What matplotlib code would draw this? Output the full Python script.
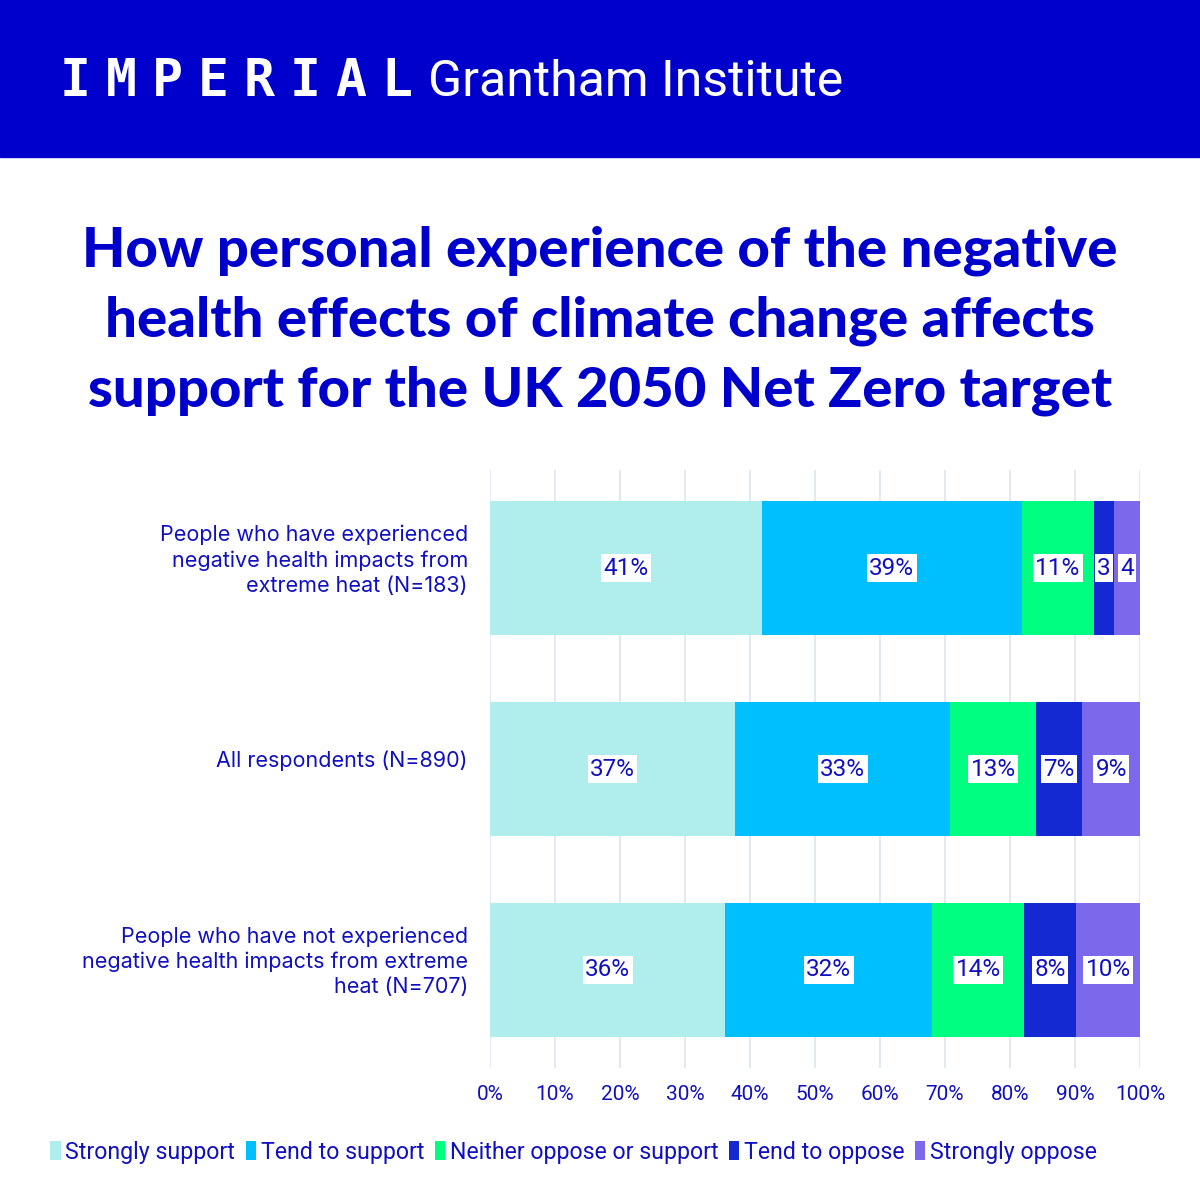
import matplotlib
matplotlib.use('Agg')
import matplotlib.pyplot as plt
import matplotlib.transforms as mtransforms
import numpy as np

groups = ['People who have experienced\nnegative health impacts from\nextreme heat (N=183)',
          'All respondents (N=890)',
          'People who have not experienced\nnegative health impacts from extreme\nheat (N=707)']
responses = ['Strongly support', 'Tend to support', 'Neither oppose or support',
             'Tend to oppose', 'Strongly oppose']
strongly_support = [41.8, 37.7, 36.2]
tend_support = [40.0, 33.1, 31.8]
neither = [11.1, 13.2, 14.2]
tend_oppose = [3.1, 7.1, 8.0]
strongly_oppose = [4.0, 8.9, 9.8]
bar_labels = [['41%', '39%', '11%', '3', '4'],
              ['37%', '33%', '13%', '7%', '9%'],
              ['36%', '32%', '14%', '8%', '10%']]
ticks = [0, 10, 20, 30, 40, 50, 60, 70, 80, 90, 100]

colors = ['#afeeec', '#00bfff', '#00ff80', '#1429d2', '#7b68ea']
navy = '#0000cd'
txt = '#1010c0'

series = [strongly_support, tend_support, neither, tend_oppose, strongly_oppose]

fig = plt.figure(figsize=(12, 12), dpi=100)
fig.patch.set_facecolor('white')

# header band
fig.patches.append(plt.Rectangle((0, 1 - 157/1200), 1, 157/1200, transform=fig.transFigure,
                                 color=navy, zorder=0))
for i, ch in enumerate('IMPERIAL'):
    fig.text((75 + i*46)/1200, 1 - 82/1200, ch, color='white', fontsize=37,
             family='DejaVu Sans Mono', weight='bold', ha='center', va='center')
fig.text(428/1200, 1 - 82/1200, 'Grantham Institute', color='white', fontsize=36,
         family='Roboto', weight='normal', ha='left', va='center')

fig.text(0.5, 1 - 321/1200,
         'How personal experience of the negative\nhealth effects of climate change affects\nsupport for the UK 2050 Net Zero target',
         color=navy, fontsize=40.5, family='Lato', weight='black', ha='center', va='center',
         linespacing=1.47)

ax = fig.add_axes([490/1200, 1 - 1068/1200, 650/1200, 598/1200])
y = np.arange(len(groups))
left = np.zeros(len(groups))
for k, vals in enumerate(series):
    vals = np.array(vals)
    ax.barh(y, vals, left=left, height=0.667, color=colors[k], label=responses[k], zorder=3)
    for j in range(len(groups)):
        ax.text(left[j] + vals[j]/2, y[j], bar_labels[j][k], ha='center', va='center',
                fontsize=17.5, color=txt, family='Roboto', zorder=4,
                bbox=dict(boxstyle='square,pad=0.1', fc='white', ec='none'))
    left += vals

ax.set_xlim(0, 100)
ax.set_ylim(2.49, -0.49)
ax.set_xticks(ticks)
ax.set_xticklabels([f'{t}%' for t in ticks], fontsize=15, color=txt, family='Roboto')
ax.set_yticks([])
# category labels sit a touch above the bar centres
trans = mtransforms.blended_transform_factory(ax.transAxes, ax.transData)
for j, g in enumerate(groups):
    ax.text(-0.034, y[j] - 0.04, g, transform=trans, ha='right', va='center',
            fontsize=15.5, color=txt, family='Inter', linespacing=1.3)
ax.tick_params(axis='x', length=0, pad=12)
ax.grid(axis='x', color='#dde5f0', lw=1.2, zorder=0)
for s in ax.spines.values():
    s.set_visible(False)

leg = fig.legend(loc='center', bbox_to_anchor=(0.478, 1 - 1152/1200), ncol=5, frameon=False,
                 handlelength=0.45, handleheight=0.9, handletextpad=0.2, columnspacing=0.45,
                 prop={'family': 'Roboto', 'size': 16.7})
for t in leg.get_texts():
    t.set_color(txt)

fig.savefig('out.png', dpi=100, facecolor='white')
